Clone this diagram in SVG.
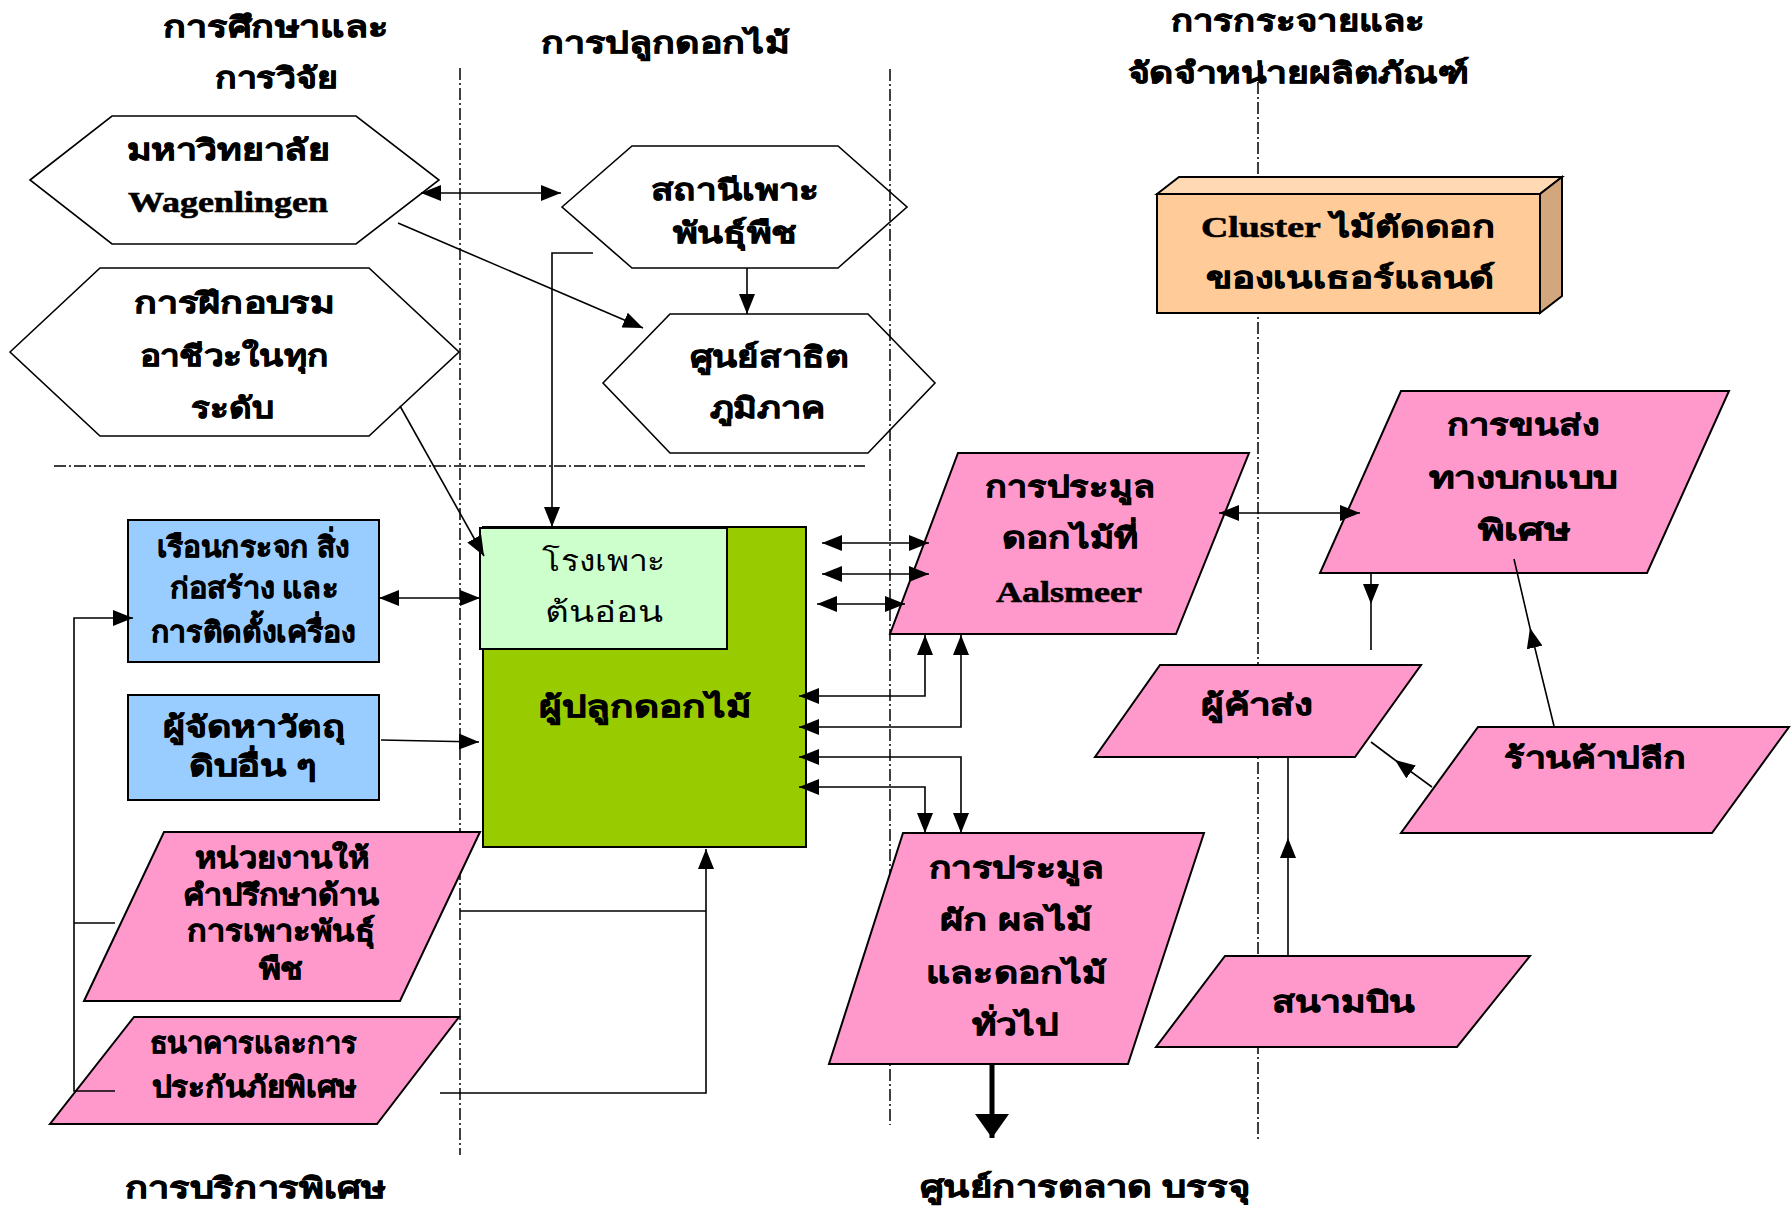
<svg xmlns="http://www.w3.org/2000/svg" width="1792" height="1209" viewBox="0 0 1792 1209">
  <style>
    .hex { fill: #ffffff; stroke: #000; stroke-width: 1.6; }
    .pink { fill: #FF99CC; stroke: #000; stroke-width: 2; }
    .blue { fill: #99CCFF; stroke: #000; stroke-width: 2; }
    .lane { fill: none; stroke: #000; stroke-width: 1.5; stroke-dasharray: 12 3 2 3; }
    .conn { fill: none; stroke: #000; stroke-width: 1.6; }
    .t { font-family: "Noto Sans", "DejaVu Sans", sans-serif; font-weight: bold; font-size: 29px; fill: #000; stroke: #000; stroke-width: 0.6; text-anchor: middle; }
    .reg { font-weight: normal; stroke: none; }
    .lat { font-family: "Liberation Serif", serif; font-weight: bold; }
  </style>
  <defs>
    <marker id="ah" markerUnits="userSpaceOnUse" markerWidth="20" markerHeight="16" viewBox="0 0 20 16" refX="20" refY="8" orient="auto-start-reverse">
      <path d="M0,0 L20,8 L0,16 z" fill="#000"/>
    </marker>
    <marker id="am" markerUnits="userSpaceOnUse" markerWidth="20" markerHeight="16" viewBox="0 0 20 16" refX="20" refY="8" orient="auto">
      <path d="M0,0 L20,8 L0,16 z" fill="#000"/>
    </marker>
    <marker id="big" markerUnits="userSpaceOnUse" markerWidth="24" markerHeight="34" viewBox="0 0 24 34" refX="24" refY="17" orient="auto">
      <path d="M0,0 L24,17 L0,34 z" fill="#000"/>
    </marker>
  </defs>

  <!-- column titles -->
  <g id="titles">
    <text class="t" x="276" y="37" textLength="226" lengthAdjust="spacingAndGlyphs">การศึกษาและ</text>
    <text class="t" x="276" y="88" textLength="123" lengthAdjust="spacingAndGlyphs">การวิจัย</text>
    <text class="t" x="665" y="53" textLength="249" lengthAdjust="spacingAndGlyphs">การปลูกดอกไม้</text>
    <text class="t" x="1298" y="31" textLength="255" lengthAdjust="spacingAndGlyphs">การกระจายและ</text>
    <text class="t" x="1298" y="83" textLength="341" lengthAdjust="spacingAndGlyphs">จัดจำหน่ายผลิตภัณฑ์</text>
    <text class="t" x="255" y="1198" textLength="261" lengthAdjust="spacingAndGlyphs">การบริการพิเศษ</text>
    <text class="t" x="1085" y="1197" textLength="331" lengthAdjust="spacingAndGlyphs">ศูนย์การตลาด บรรจุ</text>
  </g>

  <!-- hexagon nodes (under the lane lines) -->
  <g id="wageningen">
    <polygon class="hex" points="30,180 112,116 356,116 439,180 356,244 112,244"/>
    <text class="t" x="228" y="160" font-size="31" textLength="203" lengthAdjust="spacingAndGlyphs">มหาวิทยาลัย</text>
    <text class="t lat" x="228" y="212" font-size="26" textLength="200" lengthAdjust="spacingAndGlyphs">Wagenlingen</text>
  </g>
  <g id="training">
    <polygon class="hex" points="10,352 100,268 369,268 459,352 369,436 100,436"/>
    <text class="t" x="234" y="313" font-size="30" textLength="201" lengthAdjust="spacingAndGlyphs">การฝึกอบรม</text>
    <text class="t" x="234" y="366" font-size="30" textLength="189" lengthAdjust="spacingAndGlyphs">อาชีวะในทุก</text>
    <text class="t" x="232" y="418" font-size="30" textLength="83" lengthAdjust="spacingAndGlyphs">ระดับ</text>
  </g>
  <g id="breeding-station">
    <polygon class="hex" points="562,207 632,146 838,146 907,207 838,268 632,268"/>
    <text class="t" x="735" y="200" font-size="30" textLength="169" lengthAdjust="spacingAndGlyphs">สถานีเพาะ</text>
    <text class="t" x="735" y="243" font-size="30" textLength="125" lengthAdjust="spacingAndGlyphs">พันธุ์พืช</text>
  </g>
  <g id="demo-centre">
    <polygon class="hex" points="603,383 670,314 868,314 935,383 868,453 670,453"/>
    <text class="t" x="769" y="367" font-size="30" textLength="159" lengthAdjust="spacingAndGlyphs">ศูนย์สาธิต</text>
    <text class="t" x="767" y="418" font-size="30" textLength="115" lengthAdjust="spacingAndGlyphs">ภูมิภาค</text>
  </g>

  <!-- lane dividers -->
  <g id="lanes">
    <line class="lane" x1="460" y1="68" x2="460" y2="1155"/>
    <line class="lane" x1="890" y1="69" x2="890" y2="1125"/>
    <line class="lane" x1="1258" y1="82" x2="1258" y2="1139"/>
    <line class="lane" x1="54" y1="466" x2="865" y2="466"/>
  </g>

  <g id="cluster">
    <polygon points="1157,194 1179,177 1562,177 1540,194" fill="#FFD9B3" stroke="#000" stroke-width="2"/>
    <polygon points="1540,194 1562,177 1562,296 1540,313" fill="#D2A77D" stroke="#000" stroke-width="2"/>
    <rect x="1157" y="194" width="383" height="119" fill="#FFCC99" stroke="#000" stroke-width="2"/>
    <text class="t" x="1348" y="237" font-size="30" textLength="294" lengthAdjust="spacingAndGlyphs"><tspan class="lat">Cluster</tspan> ไม้ตัดดอก</text>
    <text class="t" x="1350" y="288" font-size="30" textLength="289" lengthAdjust="spacingAndGlyphs">ของเนเธอร์แลนด์</text>
  </g>

  <g id="greenhouse">
    <rect class="blue" x="128" y="520" width="251" height="142"/>
    <text class="t" x="253" y="557" font-size="26" textLength="193" lengthAdjust="spacingAndGlyphs">เรือนกระจก สิ่ง</text>
    <text class="t" x="254" y="598" font-size="26" textLength="169" lengthAdjust="spacingAndGlyphs">ก่อสร้าง และ</text>
    <text class="t" x="253" y="642" font-size="26" textLength="205" lengthAdjust="spacingAndGlyphs">การติดตั้งเครื่อง</text>
  </g>
  <g id="suppliers">
    <rect class="blue" x="128" y="695" width="251" height="105"/>
    <text class="t" x="254" y="737" font-size="26" textLength="183" lengthAdjust="spacingAndGlyphs">ผู้จัดหาวัตถุ</text>
    <text class="t" x="253" y="776" font-size="26" textLength="129" lengthAdjust="spacingAndGlyphs">ดิบอื่น ๆ</text>
  </g>
  <g id="advisory">
    <polygon class="pink" points="164,832 480,832 400,1001 84,1001"/>
    <text class="t" x="282" y="868" font-size="25" textLength="174" lengthAdjust="spacingAndGlyphs">หน่วยงานให้</text>
    <text class="t" x="281" y="905" font-size="25" textLength="196" lengthAdjust="spacingAndGlyphs">คำปรึกษาด้าน</text>
    <text class="t" x="281" y="941" font-size="25" textLength="188" lengthAdjust="spacingAndGlyphs">การเพาะพันธุ์</text>
    <text class="t" x="281" y="979" font-size="25" textLength="45" lengthAdjust="spacingAndGlyphs">พืช</text>
  </g>
  <g id="bank">
    <polygon class="pink" points="134,1017 459,1017 377,1124 50,1124"/>
    <text class="t" x="253" y="1053" font-size="26" textLength="207" lengthAdjust="spacingAndGlyphs">ธนาคารและการ</text>
    <text class="t" x="254" y="1097" font-size="26" textLength="205" lengthAdjust="spacingAndGlyphs">ประกันภัยพิเศษ</text>
  </g>

  <g id="growers">
    <rect x="483" y="527" width="323" height="320" fill="#99CC00" stroke="#000" stroke-width="2"/>
    <rect x="480" y="528" width="247" height="121" fill="#CCFFCC" stroke="#000" stroke-width="2"/>
    <text class="t reg" x="604" y="571" font-size="31" textLength="124" lengthAdjust="spacingAndGlyphs">โรงเพาะ</text>
    <text class="t reg" x="604" y="622" font-size="31" textLength="118" lengthAdjust="spacingAndGlyphs">ต้นอ่อน</text>
    <text class="t" x="645" y="717" font-size="31" textLength="212" lengthAdjust="spacingAndGlyphs">ผู้ปลูกดอกไม้</text>
  </g>

  <g id="aalsmeer">
    <polygon class="pink" points="958,453 1249,453 1176,634 890,634"/>
    <text class="t" x="1070" y="497" font-size="32" textLength="170" lengthAdjust="spacingAndGlyphs">การประมูล</text>
    <text class="t" x="1070" y="548" font-size="32" textLength="136" lengthAdjust="spacingAndGlyphs">ดอกไม้ที่</text>
    <text class="t lat" x="1069" y="602" font-size="26" textLength="146" lengthAdjust="spacingAndGlyphs">Aalsmeer</text>
  </g>
  <g id="transport">
    <polygon class="pink" points="1401,391 1729,391 1647,573 1320,573"/>
    <text class="t" x="1523" y="435" font-size="30" textLength="152" lengthAdjust="spacingAndGlyphs">การขนส่ง</text>
    <text class="t" x="1523" y="488" font-size="30" textLength="189" lengthAdjust="spacingAndGlyphs">ทางบกแบบ</text>
    <text class="t" x="1524" y="540" font-size="30" textLength="92" lengthAdjust="spacingAndGlyphs">พิเศษ</text>
  </g>
  <g id="wholesale">
    <polygon class="pink" points="1160,665 1421,665 1355,757 1095,757"/>
    <text class="t" x="1257" y="715" font-size="30" textLength="112" lengthAdjust="spacingAndGlyphs">ผู้ค้าส่ง</text>
  </g>
  <g id="retail">
    <polygon class="pink" points="1478,727 1789,727 1712,833 1401,833"/>
    <text class="t" x="1595" y="768" font-size="30" textLength="182" lengthAdjust="spacingAndGlyphs">ร้านค้าปลีก</text>
  </g>
  <g id="general-auction">
    <polygon class="pink" points="903,833 1204,833 1128,1064 829,1064"/>
    <text class="t" x="1016" y="878" font-size="30" textLength="175" lengthAdjust="spacingAndGlyphs">การประมูล</text>
    <text class="t" x="1016" y="930" font-size="30" textLength="153" lengthAdjust="spacingAndGlyphs">ผัก ผลไม้</text>
    <text class="t" x="1016" y="983" font-size="30" textLength="181" lengthAdjust="spacingAndGlyphs">และดอกไม้</text>
    <text class="t" x="1015" y="1035" font-size="30" textLength="87" lengthAdjust="spacingAndGlyphs">ทั่วไป</text>
  </g>
  <g id="airport">
    <polygon class="pink" points="1225,956 1530,956 1457,1047 1156,1047"/>
    <text class="t" x="1343" y="1012" font-size="30" textLength="143" lengthAdjust="spacingAndGlyphs">สนามบิน</text>
  </g>

  <!-- connectors -->
  <g id="connectors">
    <line class="conn" x1="421" y1="193" x2="561" y2="193" marker-start="url(#ah)" marker-end="url(#ah)"/>
    <line class="conn" x1="398" y1="223" x2="643" y2="328" marker-end="url(#ah)"/>
    <line class="conn" x1="747" y1="268" x2="747" y2="314" marker-end="url(#ah)"/>
    <polyline class="conn" points="593,253 552,253 552,527" marker-end="url(#ah)"/>
    <line class="conn" x1="400" y1="406" x2="484" y2="556" marker-end="url(#ah)"/>
    <line class="conn" x1="379" y1="598" x2="480" y2="598" marker-start="url(#ah)" marker-end="url(#ah)"/>
    <line class="conn" x1="381" y1="740" x2="479" y2="742" marker-end="url(#ah)"/>
    <polyline class="conn" points="115,1091 74,1091 74,618 133,618" marker-end="url(#ah)"/>
    <line class="conn" x1="74" y1="923" x2="115" y2="923"/>
    <polyline class="conn" points="440,1093 706,1093 706,849" marker-end="url(#ah)"/>
    <line class="conn" x1="460" y1="911" x2="706" y2="911"/>
    <line class="conn" x1="822" y1="543" x2="929" y2="543" marker-start="url(#ah)" marker-end="url(#ah)"/>
    <line class="conn" x1="822" y1="574" x2="929" y2="574" marker-start="url(#ah)" marker-end="url(#ah)"/>
    <line class="conn" x1="817" y1="604" x2="905" y2="604" marker-start="url(#ah)" marker-end="url(#ah)"/>
    <polyline class="conn" points="799,696 925,696 925,635" marker-start="url(#ah)" marker-end="url(#ah)"/>
    <polyline class="conn" points="799,727 961,727 961,635" marker-start="url(#ah)" marker-end="url(#ah)"/>
    <polyline class="conn" points="799,757 961,757 961,833" marker-start="url(#ah)" marker-end="url(#ah)"/>
    <polyline class="conn" points="799,787 925,787 925,833" marker-start="url(#ah)" marker-end="url(#ah)"/>
    <line class="conn" x1="1219" y1="513" x2="1360" y2="513" marker-start="url(#ah)" marker-end="url(#ah)"/>
    <polyline class="conn" points="1371,573 1371,604 1371,650" marker-mid="url(#am)"/>
    <polyline class="conn" points="1554,726 1530,628 1514,559" marker-mid="url(#am)"/>
    <polyline class="conn" points="1432,787 1395,760 1371,742" marker-mid="url(#am)"/>
    <polyline class="conn" points="1288,956 1288,838 1288,757" marker-mid="url(#am)"/>
    <line x1="992" y1="1064" x2="992" y2="1138" stroke="#000" stroke-width="5" marker-end="url(#big)"/>
  </g>
</svg>
